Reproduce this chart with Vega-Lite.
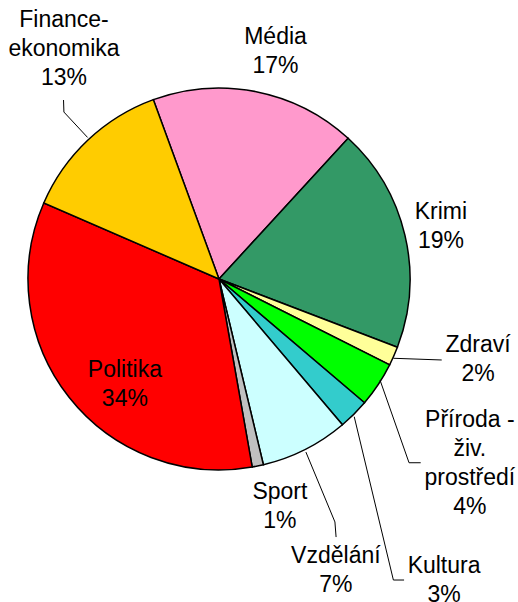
{
  "$schema": "https://vega.github.io/schema/vega-lite/v6.json",
  "width": 438,
  "height": 558,
  "autosize": {"type": "none"},
  "padding": {"left": 0, "top": 0, "right": 80, "bottom": 44},
  "background": "white",
  "config": {
    "view": {"stroke": null},
    "text": {"font": "Liberation Sans", "fontSize": 23, "lineBreak": "\n", "lineHeight": 29, "align": "center", "baseline": "middle", "color": "#000000"}
  },
  "datasets": {
    "topics": [
      {"cat": "Média", "value": 17.4, "label": "Média\n17%", "n": 1},
      {"cat": "Krimi", "value": 19.0, "label": "Krimi\n19%", "n": 2},
      {"cat": "Zdraví", "value": 1.6, "label": "Zdraví\n2%", "n": 3},
      {"cat": "Příroda - živ. prostředí", "value": 3.8, "label": "Příroda -\nživ.\nprostředí\n4%", "n": 4},
      {"cat": "Kultura", "value": 2.6, "label": "Kultura\n3%", "n": 5},
      {"cat": "Vzdělání", "value": 7.45, "label": "Vzdělání\n7%", "n": 6},
      {"cat": "Sport", "value": 0.95, "label": "Sport\n1%", "n": 7},
      {"cat": "Politika", "value": 34.3, "label": "Politika\n34%", "n": 8},
      {"cat": "Finance-ekonomika", "value": 12.9, "label": "Finance-\nekonomika\n13%", "n": 9}
    ],
    "leaders": [
      {"line": "Finance-ekonomika", "seq": 1, "u": -0.814, "v": 0.937},
      {"line": "Finance-ekonomika", "seq": 2, "u": -0.812, "v": 0.874},
      {"line": "Finance-ekonomika", "seq": 3, "u": -0.688, "v": 0.741},
      {"line": "Zdraví", "seq": 1, "u": 0.913, "v": -0.415},
      {"line": "Zdraví", "seq": 2, "u": 1.166, "v": -0.424},
      {"line": "Příroda - živ. prostředí", "seq": 1, "u": 0.843, "v": -0.529},
      {"line": "Příroda - živ. prostředí", "seq": 2, "u": 0.995, "v": -0.962},
      {"line": "Příroda - živ. prostředí", "seq": 3, "u": 1.056, "v": -0.962},
      {"line": "Kultura", "seq": 1, "u": 0.708, "v": -0.721},
      {"line": "Kultura", "seq": 2, "u": 0.913, "v": -1.576},
      {"line": "Kultura", "seq": 3, "u": 0.969, "v": -1.576},
      {"line": "Vzdělání", "seq": 1, "u": 0.455, "v": -0.906},
      {"line": "Vzdělání", "seq": 2, "u": 0.607, "v": -1.272},
      {"line": "Vzdělání", "seq": 3, "u": 0.613, "v": -1.351}
    ]
  },
  "data": {"name": "topics"},
  "layer": [
    {
      "mark": {"type": "arc", "outerRadius": 191, "stroke": "#000000", "strokeWidth": 1.5},
      "encoding": {
        "theta": {"field": "value", "type": "quantitative", "stack": true, "scale": {"range": [-0.35081, 5.93238]}},
        "order": {"field": "n", "type": "quantitative"},
        "color": {
          "field": "cat", "type": "nominal", "legend": null,
          "scale": {
            "domain": ["Média", "Krimi", "Zdraví", "Příroda - živ. prostředí", "Kultura", "Vzdělání", "Sport", "Politika", "Finance-ekonomika"],
            "range": ["#FF99CC", "#339966", "#FFFF99", "#00FF00", "#33CCCC", "#CCFFFF", "#C0C0C0", "#FF0000", "#FFCC00"]
          }
        }
      }
    },
    {
      "mark": {"type": "text", "radius": 234, "dx": 11, "dy": -12.5},
      "encoding": {
        "theta": {"field": "value", "type": "quantitative", "stack": true},
        "order": {"field": "n", "type": "quantitative"},
        "text": {"condition": {"test": "datum.cat === 'Média'", "field": "label"}, "value": ""}
      }
    },
    {
      "mark": {"type": "text", "radius": 228, "dx": 0, "dy": -14.5},
      "encoding": {
        "theta": {"field": "value", "type": "quantitative", "stack": true},
        "order": {"field": "n", "type": "quantitative"},
        "text": {"condition": {"test": "datum.cat === 'Krimi'", "field": "label"}, "value": ""}
      }
    },
    {
      "mark": {"type": "text", "radius": 269, "dx": 13, "dy": -43},
      "encoding": {
        "theta": {"field": "value", "type": "quantitative", "stack": true},
        "order": {"field": "n", "type": "quantitative"},
        "text": {"condition": {"test": "datum.cat === 'Zdraví'", "field": "label"}, "value": ""}
      }
    },
    {
      "mark": {"type": "text", "radius": 311, "dx": -8.4, "dy": -31},
      "encoding": {
        "theta": {"field": "value", "type": "quantitative", "stack": true},
        "order": {"field": "n", "type": "quantitative"},
        "text": {"condition": {"test": "datum.cat === 'Příroda - živ. prostředí'", "field": "label"}, "value": ""}
      }
    },
    {
      "mark": {"type": "text", "radius": 372, "dx": -37.7, "dy": 23.2},
      "encoding": {
        "theta": {"field": "value", "type": "quantitative", "stack": true},
        "order": {"field": "n", "type": "quantitative"},
        "text": {"condition": {"test": "datum.cat === 'Kultura'", "field": "label"}, "value": ""}
      }
    },
    {
      "mark": {"type": "text", "radius": 313, "dx": -24.5, "dy": -2},
      "encoding": {
        "theta": {"field": "value", "type": "quantitative", "stack": true},
        "order": {"field": "n", "type": "quantitative"},
        "text": {"condition": {"test": "datum.cat === 'Vzdělání'", "field": "label"}, "value": ""}
      }
    },
    {
      "mark": {"type": "text", "radius": 235.6, "dx": 13, "dy": -17.2},
      "encoding": {
        "theta": {"field": "value", "type": "quantitative", "stack": true},
        "order": {"field": "n", "type": "quantitative"},
        "text": {"condition": {"test": "datum.cat === 'Sport'", "field": "label"}, "value": ""}
      }
    },
    {
      "mark": {"type": "text", "radius": 139, "dx": 15, "dy": 4.5},
      "encoding": {
        "theta": {"field": "value", "type": "quantitative", "stack": true},
        "order": {"field": "n", "type": "quantitative"},
        "text": {"condition": {"test": "datum.cat === 'Politika'", "field": "label"}, "value": ""}
      }
    },
    {
      "mark": {"type": "text", "radius": 273.6, "dx": 32.7, "dy": -59.9},
      "encoding": {
        "theta": {"field": "value", "type": "quantitative", "stack": true},
        "order": {"field": "n", "type": "quantitative"},
        "text": {"condition": {"test": "datum.cat === 'Finance-ekonomika'", "field": "label"}, "value": ""}
      }
    },
    {
      "data": {"name": "leaders"},
      "mark": {"type": "line", "color": "#000000", "strokeWidth": 1},
      "encoding": {
        "x": {"field": "u", "type": "quantitative", "axis": null, "scale": {"domain": [-1.1466, 1.1466], "nice": false, "zero": false}},
        "y": {"field": "v", "type": "quantitative", "axis": null, "scale": {"domain": [-1.4607, 1.4607], "nice": false, "zero": false}},
        "detail": {"field": "line", "type": "nominal"},
        "order": {"field": "seq", "type": "quantitative"}
      }
    }
  ]
}
